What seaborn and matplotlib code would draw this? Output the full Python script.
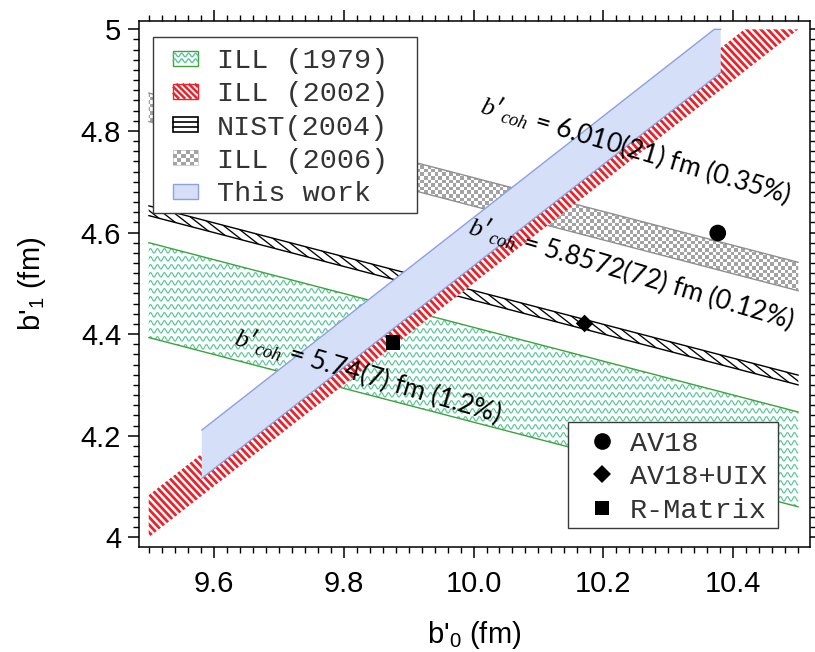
import numpy as np
import pandas as pd
import matplotlib
matplotlib.use("Agg")
import matplotlib.pyplot as plt
import seaborn as sns
from matplotlib.collections import LineCollection
from matplotlib.colors import ListedColormap
from matplotlib.legend_handler import HandlerBase
from matplotlib.lines import Line2D
from matplotlib.patches import Polygon, Rectangle
from matplotlib.ticker import MultipleLocator
from matplotlib.transforms import Affine2D

# ---- data -------------------------------------------------------------
# coherent scattering length results, b'_coh = b'_0/4 + 3 b'_1/4  (fm)
coh_sources = ["ILL (1979)", "NIST(2004)", "ILL (2006)"]
coh_results = ["5.74(7)", "5.8572(72)", "6.010(21)"]

# bands of constant b'_0 - b'_1 (fm)
diff_sources = ["ILL (2002)", "This work"]
diff_low = [5.417, 5.3706]
diff_high = [5.500, 5.4656]
diff_b0_min = [9.50, 9.5816]
diff_b0_max = [10.50, 10.3806]

# potential-model predictions (fm)
models = ["AV18", "AV18+UIX", "R-Matrix"]
model_b0 = [10.376, 10.171, 9.876]
model_b1 = [4.599, 4.421, 4.384]

b0_range = [9.5, 10.5]
b1_range = [4.0, 5.0]
x_ticks = [9.6, 9.8, 10.0, 10.2, 10.4]
x_tick_labels = ["9.6", "9.8", "10.0", "10.2", "10.4"]
y_ticks = [4.0, 4.2, 4.4, 4.6, 4.8, 5.0]
y_tick_labels = ["4", "4.2", "4.4", "4.6", "4.8", "5"]
legend_order = ["ILL (1979)", "ILL (2002)", "NIST(2004)", "ILL (2006)", "This work"]


def parse_result(s):
    val, unc = s.rstrip(")").split("(")
    dec = len(val.split(".")[1])
    return float(val), int(unc) * 10.0 ** (-dec)


coh_val = [parse_result(s)[0] for s in coh_results]
coh_err = [parse_result(s)[1] for s in coh_results]

# ---- style ------------------------------------------------------------
sns.set_theme(style="ticks")
plt.rcParams["font.family"] = ["Liberation Sans", "DejaVu Sans"]
plt.rcParams["mathtext.fontset"] = "custom"
plt.rcParams["mathtext.rm"] = "Liberation Sans"
plt.rcParams["mathtext.it"] = "Liberation Serif:italic"
plt.rcParams["mathtext.bf"] = "Liberation Sans:bold"
for key in ("text.color", "axes.labelcolor", "xtick.color", "ytick.color",
            "xtick.labelcolor", "ytick.labelcolor"):
    plt.rcParams[key] = "black"

W, H = 815, 652
PT = 72.0 / 100.0  # points per pixel
fig = plt.figure(figsize=(W / 100, H / 100), dpi=100)
ax = fig.add_axes([139.3 / W, 1 - 546.7 / H, (810 - 139.3) / W, (546.7 - 20.7) / H])
XLIM = (9.4855, 10.518)
YLIM = (3.9815, 5.017)
ax.set_xlim(*XLIM)
ax.set_ylim(*YLIM)
pix = Affine2D().scale(1.0 / W, -1.0 / H).translate(0, 1) + fig.transFigure


def coh_b1(b0, bcoh):
    return (4.0 * bcoh - b0) / 3.0


def band_xy(x, lo, hi):
    return np.column_stack([np.r_[x, x[::-1]], np.r_[hi, lo[::-1]]])


def stripe_segments(xy, angle_deg, spacing_px):
    disp = ax.transData.transform(xy)
    (x0, y0), (x1, y1) = disp.min(0), disp.max(0)
    c = np.array([(x0 + x1) / 2, (y0 + y1) / 2])
    r = np.hypot(x1 - x0, y1 - y0) / 2 + spacing_px
    th = np.deg2rad(angle_deg)
    d = np.array([np.cos(th), np.sin(th)])
    n = np.array([-np.sin(th), np.cos(th)])
    inv = ax.transData.inverted()
    segs = []
    for k in np.arange(-r, r + spacing_px, spacing_px):
        p = c + k * n
        segs.append(inv.transform([p - r * d, p + r * d]))
    return segs


def wave_segments(xy, row_px, period_px, amp_px):
    disp = ax.transData.transform(xy)
    (x0, y0), (x1, y1) = disp.min(0), disp.max(0)
    xs = np.arange(x0 - 2, x1 + 2, 0.4)
    inv = ax.transData.inverted()
    segs = []
    for yk in np.arange(y0 - row_px, y1 + row_px, row_px):
        ys = yk + amp_px * np.sin(2 * np.pi * (xs - x0) / period_px)
        segs.append(inv.transform(np.column_stack([xs, ys])))
    return segs


b0 = np.linspace(b0_range[0], b0_range[1], 401)
green_edge, green_wave = "#3fa23f", "#55c795"
gray_edge, gray_cell = "#8f8f8f", "#a3a3a3"
red = "#e8232b"
blue_face, blue_edge = "#d5dff8", "#8ea0e0"

# ILL (1979): wavy green band
lo, hi = coh_b1(b0, coh_val[0] - coh_err[0]), coh_b1(b0, coh_val[0] + coh_err[0])
poly_g = Polygon(band_xy(b0, lo, hi), closed=True, facecolor="white",
                 edgecolor="none", zorder=1, transform=ax.transData)
ax.add_patch(poly_g)
lc = LineCollection(wave_segments(poly_g.get_xy(), 8.0, 7.0, 2.2), colors=green_wave,
                    linewidths=0.85, zorder=1.1)
ax.add_collection(lc, autolim=False)
lc.set_clip_path(poly_g)
for edge in (lo, hi):
    sns.lineplot(x=b0, y=edge, ax=ax, color=green_edge, lw=1.0, zorder=1.2,
                 estimator=None, sort=False)

# NIST (2004): black hatched band
lo, hi = coh_b1(b0, coh_val[1] - coh_err[1]), coh_b1(b0, coh_val[1] + coh_err[1])
poly_n = Polygon(band_xy(b0, lo, hi), closed=True, facecolor="white",
                 edgecolor="none", zorder=2, transform=ax.transData)
ax.add_patch(poly_n)
lc = LineCollection(stripe_segments(poly_n.get_xy(), -38, 6.8), colors="black",
                    linewidths=0.95, zorder=2.1)
ax.add_collection(lc, autolim=False)
lc.set_clip_path(poly_n)
for edge in (lo, hi):
    sns.lineplot(x=b0, y=edge, ax=ax, color="black", lw=1.0, zorder=2.2,
                 estimator=None, sort=False)

# ILL (2006): checkered gray band
lo, hi = coh_b1(b0, coh_val[2] - coh_err[2]), coh_b1(b0, coh_val[2] + coh_err[2])
poly_c = Polygon(band_xy(b0, lo, hi), closed=True, facecolor="white",
                 edgecolor="none", zorder=2, transform=ax.transData)
ax.add_patch(poly_c)
ncol, nrow = int(round((810 - 139.3) / 3.6)), int(round((546.7 - 20.7) / 3.6))
ii, jj = np.indices((nrow, ncol))
im = ax.imshow((ii + jj) % 2, cmap=ListedColormap(["white", gray_cell]),
               extent=(*XLIM, *YLIM), origin="lower", interpolation="nearest",
               aspect="auto", zorder=2.1)
im.set_clip_path(poly_c)
for edge in (lo, hi):
    sns.lineplot(x=b0, y=edge, ax=ax, color=gray_edge, lw=1.0, zorder=2.2,
                 estimator=None, sort=False)

# ILL (2002): red striped band
x = np.linspace(diff_b0_min[0], diff_b0_max[0], 401)
lo = np.clip(x - diff_high[0], *b1_range)
hi = np.clip(x - diff_low[0], *b1_range)
poly_r = Polygon(band_xy(x, lo, hi), closed=True, facecolor="white",
                 edgecolor="none", zorder=3, transform=ax.transData)
ax.add_patch(poly_r)
lc = LineCollection(stripe_segments(poly_r.get_xy(), -47, 5.2), colors=red,
                    linewidths=2.0, zorder=3.1)
ax.add_collection(lc, autolim=False)
lc.set_clip_path(poly_r)

# This work: light blue band
x = np.linspace(diff_b0_min[1], diff_b0_max[1], 401)
lo = np.clip(x - diff_high[1], *b1_range)
hi = np.clip(x - diff_low[1], *b1_range)
ax.fill_between(x, lo, hi, facecolor=blue_face, edgecolor="none", zorder=4)
for edge in (lo, hi):
    sns.lineplot(x=x, y=edge, ax=ax, color=blue_edge, lw=1.0, zorder=4.1,
                 estimator=None, sort=False)

# model predictions
marker_map = {"AV18": "o", "AV18+UIX": "D", "R-Matrix": "s"}
size_map = {"AV18": 144, "AV18+UIX": 81, "R-Matrix": 110}
df = pd.DataFrame({"model": models, "b0": model_b0, "b1": model_b1})
sns.scatterplot(data=df, x="b0", y="b1", style="model", markers=marker_map,
                size="model", sizes=size_map, color="black", edgecolor="black",
                linewidth=0, legend=False, ax=ax, zorder=6)

# b'_coh annotations along each band
text_pos = [(9.8375, 4.319), (10.243, 4.522), (10.250, 4.764)]
for s, v, e, (tx, ty) in zip(coh_results, coh_val, coh_err, text_pos):
    ax.text(tx, ty, f"$b$\u2032$_{{coh}}$ = {s} fm ({100 * e / v:.2g}%)",
            rotation=-16.5, rotation_mode="anchor", ha="center", va="center",
            fontsize=19, family=["Lato", "DejaVu Sans"], color="black", zorder=7)

# ---- axes -------------------------------------------------------------
ax.set_xticks(x_ticks, labels=x_tick_labels)
ax.set_yticks(y_ticks, labels=y_tick_labels)
ax.xaxis.set_minor_locator(MultipleLocator(0.02))
ax.yaxis.set_minor_locator(MultipleLocator(0.02))
ax.tick_params(which="both", direction="out", top=True, right=True,
               labeltop=False, labelright=False, color="black", labelcolor="black")
ax.tick_params(which="major", length=8, width=1.1, labelsize=21)
ax.tick_params(which="minor", length=4, width=1.0)
ax.tick_params(axis="x", which="major", pad=9)
ax.tick_params(axis="y", which="major", pad=5)
for sp in ax.spines.values():
    sp.set_linewidth(1.1)
    sp.set_color("black")
ax.set_xlabel("b'$\\mathregular{_0}$ (fm)", fontsize=21, labelpad=15, color="black")
ax.set_ylabel("b'$\\mathregular{_1}$ (fm)", fontsize=21, labelpad=24, color="black")


# ---- legends ----------------------------------------------------------
class Swatch(HandlerBase):
    def __init__(self, painter, w_px=25, h_px=15):
        super().__init__()
        self.painter = painter
        self.w, self.h = w_px * PT, h_px * PT

    def create_artists(self, legend, orig_handle, xdescent, ydescent, width,
                       height, fontsize, trans):
        x0 = -xdescent + width - self.w
        y0 = -ydescent + (height - self.h) / 2
        artists = self.painter(x0, y0, self.w, self.h)
        for a in artists:
            a.set_transform(trans)
        return artists


def paint_wave(x0, y0, w, h):
    box = Rectangle((x0, y0), w, h, facecolor="white", edgecolor=green_edge, lw=1.0)
    xs = np.linspace(x0, x0 + w, 60)
    lines = [Line2D(xs, y0 + h * f + 1.3 * np.sin(2 * np.pi * (xs - x0) / 5.0),
                    color=green_wave, lw=1.0) for f in (0.32, 0.7)]
    return [box] + lines


def paint_red(x0, y0, w, h):
    box = Rectangle((x0, y0), w, h, facecolor="white", edgecolor=red, lw=1.0)
    arts = [box]
    for k in np.arange(-h, w + h, 4.4):
        t0, t1 = max(0.0, -k), min(h, w - k)
        if t1 > t0:
            arts.append(Line2D([x0 + k + t0, x0 + k + t1], [y0 + h - t0, y0 + h - t1],
                               color=red, lw=1.8, solid_capstyle="butt"))
    return arts


def paint_nist(x0, y0, w, h):
    box = Rectangle((x0, y0), w, h, facecolor="white", edgecolor="black", lw=1.2)
    lines = [Line2D([x0, x0 + w], [y0 + h * f] * 2, color="black", lw=1.2)
             for f in (1 / 3, 2 / 3)]
    return [box] + lines


def paint_checker(x0, y0, w, h):
    box = Rectangle((x0, y0), w, h, facecolor="white", edgecolor="#c8c8c8", lw=0.6)
    cw, chh = w / 6, h / 4
    cells = [Rectangle((x0 + i * cw, y0 + j * chh), cw, chh, facecolor=gray_cell,
                       edgecolor="none") for i in range(6) for j in range(4)
             if (i + j) % 2 == 0]
    return [box] + cells


def paint_blue(x0, y0, w, h):
    return [Rectangle((x0, y0), w, h, facecolor=blue_face, edgecolor=blue_edge, lw=1.0)]


painters = {"ILL (1979)": paint_wave, "ILL (2002)": paint_red,
            "NIST(2004)": paint_nist, "ILL (2006)": paint_checker,
            "This work": paint_blue}
proxies = [Rectangle((0, 0), 1, 1) for _ in legend_order]
hmap = {p: Swatch(painters[name]) for p, name in zip(proxies, legend_order)}
mono = {"family": "Liberation Mono", "size": 20.5}

leg1 = ax.legend(proxies, legend_order, handler_map=hmap, loc="upper left",
                 bbox_to_anchor=(160 / W, 1 - 48 / H), bbox_transform=fig.transFigure,
                 frameon=False, borderpad=0, borderaxespad=0, handlelength=1.335,
                 handleheight=0.7, handletextpad=0.66, labelspacing=0.255, prop=mono)
for t in leg1.get_texts():
    t.set_color("#333333")
leg1.set_zorder(9)
ax.add_artist(leg1)

handles2 = [Line2D([], [], marker=marker_map[m], color="black", ls="none",
                   ms=np.sqrt(size_map[m]), markeredgewidth=0) for m in models]
leg2 = ax.legend(handles2, models, loc="upper left",
                 bbox_to_anchor=(587.5 / W, 1 - 431 / H), bbox_transform=fig.transFigure,
                 frameon=False, borderpad=0, borderaxespad=0, handlelength=1.0,
                 handletextpad=0.49, labelspacing=0.26, prop=mono)
for t in leg2.get_texts():
    t.set_color("#333333")
leg2.set_zorder(9)

for (l, t, r, b) in [(152.7, 36.7, 416.7, 213.3), (568.3, 421.7, 778.3, 528.0)]:
    frame = Rectangle((l, t), r - l, b - t, transform=pix, facecolor="white",
                      edgecolor="#3a3a3a", lw=1.0, zorder=8, clip_on=False)
    ax.add_artist(frame)

ax.set_xlim(*XLIM)
ax.set_ylim(*YLIM)
fig.savefig("out.png", dpi=100)
